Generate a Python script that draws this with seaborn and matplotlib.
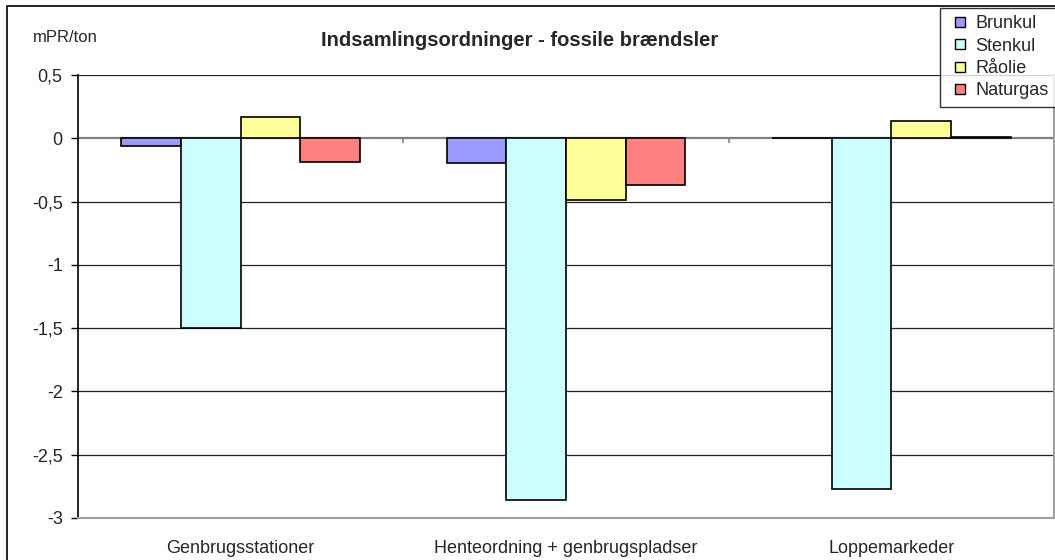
import matplotlib
matplotlib.use("Agg")
import matplotlib.pyplot as plt
from matplotlib.patches import Rectangle
from matplotlib.lines import Line2D
import pandas as pd
import seaborn as sns

# data (mPR/ton)
ordninger = ["Genbrugsstationer", "Henteordning + genbrugspladser", "Loppemarkeder"]
brunkul = [-0.063, -0.198, -0.001]
stenkul = [-1.50, -2.855, -2.77]
raaolie = [0.166, -0.49, 0.137]
naturgas = [-0.184, -0.372, 0.008]

brændsler = ["Brunkul", "Stenkul", "Råolie", "Naturgas"]
farver = ["#9999FF", "#CCFFFF", "#FFFF99", "#FF8080"]
yticks = [0.5, 0, -0.5, -1, -1.5, -2, -2.5, -3]
ytick_labels = ["0,5", "0", "-0,5", "-1", "-1,5", "-2", "-2,5", "-3"]

rows = []
for navn, vals in zip(brændsler, [brunkul, stenkul, raaolie, naturgas]):
    for o, v in zip(ordninger, vals):
        rows.append({"ordning": o, "brændsel": navn, "værdi": v})
df = pd.DataFrame(rows)

sns.set_style("white")
plt.rcParams["font.family"] = ["Liberation Sans", "DejaVu Sans"]

fig = plt.figure(figsize=(10.55, 5.6), dpi=100)
ax = fig.add_axes([78 / 1055, 1 - 518 / 560, (1054 - 78) / 1055, (518 - 75) / 560])

sns.barplot(data=df, x="ordning", y="værdi", hue="brændsel", order=ordninger,
            hue_order=brændsler, palette=farver, width=0.733, saturation=1,
            edgecolor="black", linewidth=1.2, ax=ax, zorder=3)

ax.set_ylim(-3, 0.5)
ax.set_xlim(-0.5, len(ordninger) - 0.5)
ax.set_yticks(yticks)
ax.set_yticklabels(ytick_labels)
for y in yticks:
    if y != 0:
        ax.axhline(y, color="#222222", lw=0.9, zorder=1)
ax.axhline(0, color="#808080", lw=1.6, zorder=2)
ax.vlines([i + 0.5 for i in range(len(ordninger) - 1)], -0.04, 0, color="#808080", lw=1.2, zorder=2)

ax.set_xlabel("")
ax.set_ylabel("")
ax.tick_params(axis="y", length=5, width=1, color="black", pad=6, labelsize=13, left=True, direction="out")
ax.tick_params(axis="x", length=0, pad=16, labelsize=13)

ax.spines["top"].set_visible(False)
ax.spines["left"].set_color("black")
ax.spines["left"].set_linewidth(1.2)
ax.spines["bottom"].set_color("#A0A0A0")
ax.spines["bottom"].set_linewidth(1.5)
ax.spines["right"].set_color("#A0A0A0")
ax.spines["right"].set_linewidth(1.5)

fig.text(520 / 1055, 1 - 40 / 560, "Indsamlingsordninger - fossile brændsler",
         ha="center", va="center", fontsize=14.5, fontweight="bold")
fig.text(33 / 1055, 1 - 38 / 560, "mPR/ton", ha="left", va="center", fontsize=12)

ax.get_legend().remove()
handles = [Line2D([], [], linestyle="none", marker="s", markersize=7.5, markerfacecolor=c,
                  markeredgecolor="black", markeredgewidth=1) for c in farver]
leg = fig.legend(handles, brændsler, loc="upper left", bbox_to_anchor=(940 / 1055, 1 - 8 / 560),
                 frameon=True, fancybox=False, fontsize=13, handlelength=1.4,
                 handletextpad=0.15, labelspacing=0.3, borderpad=0.4, borderaxespad=0)
leg.get_frame().set_edgecolor("black")
leg.get_frame().set_linewidth(1)

fig.patches.append(Rectangle((7 / 1055, -0.1), 1.2, 1.1 - 6 / 560, transform=fig.transFigure,
                             fill=False, edgecolor="black", lw=1.2))

plt.savefig("out.png", dpi=100)
